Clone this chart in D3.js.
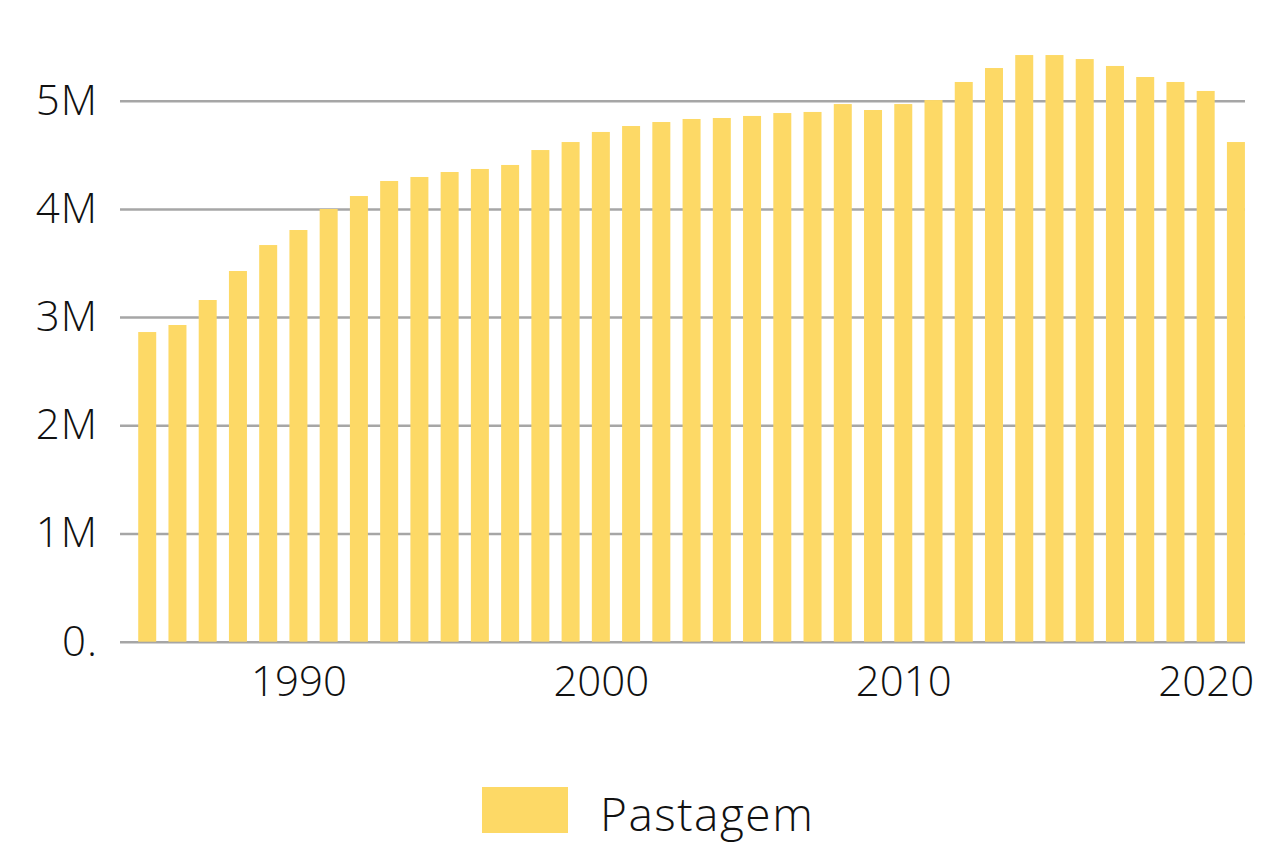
<!DOCTYPE html>
<html>
<head>
<meta charset="utf-8">
<script src="https://cdn.jsdelivr.net/npm/d3@7"></script>
<style>
  html, body { margin: 0; padding: 0; background: #ffffff; }
  svg { display: block; font-family: "Open Sans", Lato, "Noto Sans", sans-serif; }
</style>
</head>
<body>
<svg id="chart" width="1280" height="846"></svg>
<script>
// Pasture area per year (hectares)
const years = [1985, 1986, 1987, 1988, 1989, 1990, 1991, 1992, 1993, 1994,
               1995, 1996, 1997, 1998, 1999, 2000, 2001, 2002, 2003, 2004,
               2005, 2006, 2007, 2008, 2009, 2010, 2011, 2012, 2013, 2014,
               2015, 2016, 2017, 2018, 2019, 2020, 2021];
const pastagem = [2862000, 2927000, 3158000, 3426000, 3666000, 3805000, 3999000, 4119000, 4258000, 4295000,
                  4341000, 4369000, 4406000, 4544000, 4618000, 4711000, 4766000, 4803000, 4831000, 4840000,
                  4859000, 4886000, 4896000, 4969000, 4914000, 4969000, 5006000, 5173000, 5302000, 5422000,
                  5422000, 5385000, 5321000, 5219000, 5173000, 5090000, 4618000];
const yTicks = [0, 1000000, 2000000, 3000000, 4000000, 5000000];
const xTicks = [1990, 2000, 2010, 2020];
const seriesName = "Pastagem";

(function draw() {
  const svg = d3.select("#chart");
  const plotLeft = 120, plotRight = 1245, plotTop = 100.7, plotBottom = 641.7;
  const barColor = "#fdd966";
  const gridColor = "#a6a6a6";
  const textColor = "#111111";
  const fontFamily = "'Open Sans', Lato, 'Noto Sans', sans-serif";

  const x = d3.scaleLinear().domain([1984.1, 2021.3]).range([plotLeft, plotRight]);
  const y = d3.scaleLinear().domain([0, 5000000]).range([plotBottom, plotTop]);
  const barW = 18;

  // Horizontal gridlines + y labels
  const yAxis = d3.axisLeft(y)
    .tickValues(yTicks)
    .tickSize(-(plotRight - plotLeft))
    .tickPadding(22)
    .tickFormat(d => d === 0 ? "0." : (d / 1e6) + "M");

  const gy = svg.append("g")
    .attr("transform", `translate(${plotLeft},0)`)
    .call(yAxis)
    .attr("font-family", fontFamily);
  gy.select(".domain").remove();
  gy.selectAll(".tick line")
    .attr("stroke", gridColor)
    .attr("stroke-width", 2.5);
  gy.selectAll(".tick text")
    .attr("fill", textColor)
    .attr("font-size", 42)
    .attr("font-weight", 300)
    .attr("letter-spacing", 1);

  // Bars
  svg.append("g")
    .selectAll("rect")
    .data(years.map((yr, i) => ({ yr, v: pastagem[i] })))
    .join("rect")
    .attr("x", d => x(d.yr) - barW / 2)
    .attr("width", barW)
    .attr("y", d => y(d.v))
    .attr("height", d => y(0) - y(d.v))
    .attr("fill", barColor);

  // Year axis
  const xAxis = d3.axisBottom(x)
    .tickValues(xTicks)
    .tickSize(0)
    .tickPadding(24)
    .tickFormat(d3.format("d"));
  const gx = svg.append("g")
    .attr("transform", `translate(0,${plotBottom})`)
    .call(xAxis)
    .attr("font-family", fontFamily);
  gx.select(".domain").remove();
  gx.selectAll(".tick text")
    .attr("fill", textColor)
    .attr("font-size", 42)
    .attr("font-weight", 300);

  // Legend
  const legend = svg.append("g").attr("transform", "translate(482,787)");
  legend.append("rect")
    .attr("width", 86)
    .attr("height", 46)
    .attr("fill", barColor);
  legend.append("text")
    .attr("x", 118)
    .attr("y", 44)
    .attr("fill", textColor)
    .attr("font-size", 46)
    .attr("font-weight", 300)
    .attr("letter-spacing", 1.5)
    .text(seriesName);
})();
</script>
</body>
</html>
